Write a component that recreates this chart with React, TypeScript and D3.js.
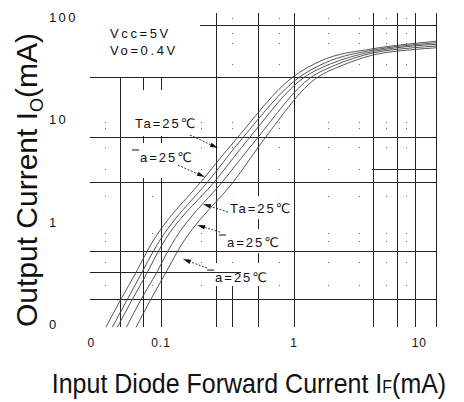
import React from "react";
import * as d3 from "d3";

const W = 464;
const H = 402;

// ---- Curves: input diode forward current IF (mA) -> output current IO (mA)
const curve1IF = [0.0385, 0.05, 0.065, 0.079, 0.214, 0.373, 0.98, 1.57, 3.93, 7.85, 11.7];
const curve1IO = [0.093, 0.175, 0.32, 0.52, 2.73, 6.56, 25.9, 37, 49, 55, 58];
const curve2IF = [0.043, 0.056, 0.072, 0.088, 0.24, 0.41, 1.1, 1.7, 3.93, 7.85, 11.7];
const curve2IO = [0.093, 0.175, 0.32, 0.52, 2.73, 6.56, 25.9, 35.5, 47.5, 53.5, 56];
const curve3IF = [0.047, 0.061, 0.079, 0.096, 0.27, 0.46, 1.2, 1.85, 3.93, 7.85, 11.7];
const curve3IO = [0.093, 0.175, 0.32, 0.52, 2.73, 6.56, 25.9, 34.5, 46, 52, 54];
const curve4IF = [0.055, 0.071, 0.093, 0.113, 0.31, 0.53, 1.35, 2.0, 3.93, 7.85, 11.7];
const curve4IO = [0.093, 0.175, 0.32, 0.52, 2.73, 6.56, 25.9, 33.5, 44.5, 50, 52];
const curve5IF = [0.065, 0.084, 0.109, 0.134, 0.373, 0.605, 1.51, 2.22, 3.93, 7.85, 11.7];
const curve5IO = [0.093, 0.175, 0.32, 0.52, 2.73, 6.56, 25.9, 33, 42.5, 48, 50];

// ---- Grid (irregular, as in the scanned original)
const vGridIF = [0.049, 0.073, 0.1, 0.26, 0.34, 0.54, 1, 3.9, 5.9, 8.1, 11.7];
const vGridTopIO = [25.9, 25.9, 25.9, 109, 0.29, 109, 109, 109, 109, 109, 109];
const hGridIO = [83, 25.9, 6.7, 3.3, 2.44, 0.52, 0.32, 0.175];
const hGridFromIF = [0.196, 0.0292, 0.0292, 3.85, 0.0292, 0.0292, 0.0292, 0.0292];
const hGridToIF = [11.7, 11.7, 11.7, 11.7, 11.7, 11.7, 0.4, 11.7];
const dotIF = [0.038, 0.085, 0.2, 0.34, 0.77, 1.8, 3.1, 4.9, 7];
const dotIO = [98, 70, 56, 35, 9.4, 8.2, 5.4, 3.3, 1.8, 0.77, 0.65, 0.4, 0.24];

// ---- Ticks
const xTickVals = [0.03, 0.1, 1, 10];
const xTickText = ["0", "0.1", "1", "10"];
const yTickVals = [100, 10, 1, 0.1];
const yTickText = ["100", "10", "1", "0"];

// ---- Annotations (data coordinates)
const annText = ["Ta=25℃", "a=25℃", "Ta=25℃", "a=25℃", "a=25℃"];
const annBar = [false, true, false, true, true];
const annX = [0.0638, 0.0695, 0.33, 0.313, 0.255];
const annY = [8.22, 3.83, 1.21, 0.565, 0.257];
const annTailX = [0.165, 0.134, 0.319, 0.278, 0.222];
const annTailY = [7.03, 3.57, 1.24, 0.79, 0.352];
const annTipX = [0.268, 0.214, 0.207, 0.187, 0.146];
const annTipY = [5.24, 2.73, 1.49, 0.927, 0.431];

const condText = ["Vcc=5V", "Vo=0.4V"];
const condX = 0.0414;
const condY = [62.3, 42.5];

const xScale = d3.scaleLog().domain([0.1, 10]).range([161, 427]);
const yScale = d3.scaleLog().domain([0.1, 100]).range([324, 17]);

const FONT = "'Liberation Sans', Arial, 'DejaVu Sans', sans-serif";
const X_MIN = 0.0292;
const X_MAX = 11.7;
const Y_BOTTOM = 0.093;

const curves = [
  [curve1IF, curve1IO],
  [curve2IF, curve2IO],
  [curve3IF, curve3IO],
  [curve4IF, curve4IO],
  [curve5IF, curve5IO],
];

const lineGen = d3
  .line<[number, number]>()
  .x((d) => xScale(d[0]))
  .y((d) => yScale(d[1]))
  .curve(d3.curveMonotoneX);

const boxTop = [-38, -19, -17, -18, -19];
const boxBottom = [8, 16, 6, 6, 4];

export default function App() {
  const crisp = (v: number) => Math.round(v) + 0.5;
  return (
    <div style={{ position: "absolute", left: 0, top: 0 }}>
      <svg width={W} height={H} style={{ display: "block", background: "#fff" }}>
        <rect x={0} y={0} width={W} height={H} fill="#fff" />
        {/* vertical grid */}
        {vGridIF.map((v, i) => (
          <line
            key={"v" + i}
            x1={crisp(xScale(v))}
            x2={crisp(xScale(v))}
            y1={yScale(vGridTopIO[i])}
            y2={yScale(Y_BOTTOM)}
            stroke="#222"
            strokeWidth={1}
            shapeRendering="crispEdges"
          />
        ))}
        {/* dotted minor grid */}
        {dotIF.map((fx, i) =>
          dotIO
            .filter((fy) => !(fy > 25.9 && fx < 0.26))
            .map((fy, j) => (
              <rect
                key={"d" + i + "-" + j}
                x={Math.round(xScale(fx))}
                y={Math.round(yScale(fy))}
                width={1}
                height={1}
                fill="#666"
              />
            ))
        )}
        {/* label background boxes */}
        {annText.map((t, i) => {
          const x0 = xScale(annX[i]);
          const y0 = yScale(annY[i]);
          return (
            <rect
              key={"b" + i}
              x={x0 - (annBar[i] ? 9 : 4)}
              y={y0 + boxTop[i]}
              width={annBar[i] ? 68 : 66}
              height={boxBottom[i] - boxTop[i]}
              fill="#fff"
            />
          );
        })}
        {/* horizontal grid */}
        {hGridIO.map((v, i) => (
          <line
            key={"h" + i}
            x1={xScale(hGridFromIF[i])}
            x2={xScale(hGridToIF[i])}
            y1={crisp(yScale(v))}
            y2={crisp(yScale(v))}
            stroke="#222"
            strokeWidth={1}
            shapeRendering="crispEdges"
          />
        ))}
        {/* curves */}
        {curves.map(([xs, ys], k) => (
          <path
            key={"c" + k}
            d={lineGen(xs.map((x, i) => [x, ys[i]] as [number, number])) || ""}
            fill="none"
            stroke="#444"
            strokeWidth={0.9}
          />
        ))}
        {/* leaders */}
        {annText.map((t, i) => {
          const x1 = xScale(annTailX[i]);
          const y1 = yScale(annTailY[i]);
          const x2 = xScale(annTipX[i]);
          const y2 = yScale(annTipY[i]);
          const a = Math.atan2(y2 - y1, x2 - x1);
          const L = 8;
          const w = 2.2;
          const bx = x2 - L * Math.cos(a);
          const by = y2 - L * Math.sin(a);
          const px = -Math.sin(a) * w;
          const py = Math.cos(a) * w;
          return (
            <g key={"l" + i}>
              <line x1={x1} y1={y1} x2={bx} y2={by} stroke="#222" strokeWidth={0.9} strokeDasharray="2,1.5" />
              <polygon
                points={`${x2},${y2} ${bx + px},${by + py} ${bx - px},${by - py}`}
                fill="#111"
              />
            </g>
          );
        })}
        {/* annotation text */}
        {annText.map((t, i) => {
          const x0 = xScale(annX[i]);
          const y0 = yScale(annY[i]);
          return (
            <g key={"t" + i}>
              {annBar[i] && (
                <line x1={x0 - 8} x2={x0 - 1} y1={y0 - 12} y2={y0 - 12} stroke="#111" strokeWidth={1} />
              )}
              <text x={x0} y={y0} fontFamily={FONT} fontSize={13} letterSpacing={2} fill="#111">
                {t}
              </text>
            </g>
          );
        })}
        {/* conditions */}
        {condText.map((t, i) => (
          <text
            key={"cond" + i}
            x={xScale(condX)}
            y={yScale(condY[i])}
            fontFamily={FONT}
            fontSize={13}
            letterSpacing={2.6}
            fill="#111"
          >
            {t}
          </text>
        ))}
        {/* y tick labels */}
        {yTickVals.map((v, i) => (
          <text
            key={"yt" + i}
            x={xScale(X_MIN) - 41}
            y={yScale(v) + 5}
            fontFamily={FONT}
            fontSize={13}
            letterSpacing={2.5}
            fill="#111"
          >
            {yTickText[i]}
          </text>
        ))}
        {/* x tick labels */}
        {xTickVals.map((v, i) => (
          <text
            key={"xt" + i}
            x={xScale(v)}
            y={347}
            textAnchor={i === xTickVals.length - 1 ? "end" : "middle"}
            fontFamily={FONT}
            fontSize={12}
            letterSpacing={1}
            fill="#111"
          >
            {xTickText[i]}
          </text>
        ))}
        {/* axis titles */}
        <text
          transform={`translate(37,180) rotate(-90)`}
          textAnchor="middle"
          fontFamily={FONT}
          fontSize={30}
          fill="#111"
        >
          Output Current I
          <tspan fontSize={18} dy={6}>
            O
          </tspan>
          <tspan dy={-6}>(mA)</tspan>
        </text>
        <g transform={`translate(${(xScale(X_MIN) + xScale(X_MAX)) / 2 - 14},393) scale(1,1.1)`}>
          <text x={0} y={0} textAnchor="middle" fontFamily={FONT} fontSize={25} fill="#111">
            Input Diode Forward Current I<tspan fontSize={16}>F</tspan>(mA)
          </text>
        </g>
      </svg>
    </div>
  );
}
